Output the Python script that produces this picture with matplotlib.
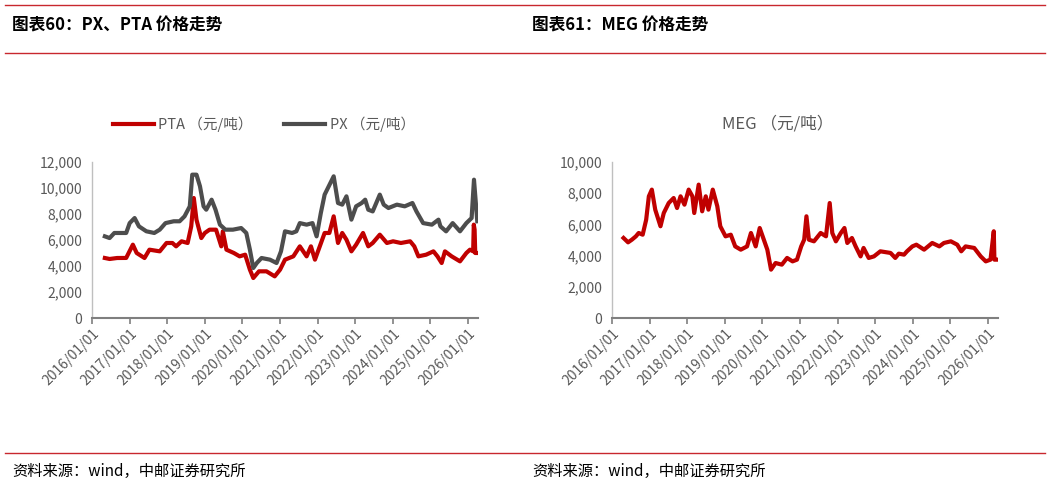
import pandas as pd
import numpy as np
import matplotlib
matplotlib.use('Agg')
from matplotlib import pyplot as plt
import matplotlib.dates as mdates
from matplotlib.ticker import FuncFormatter

plt.rcParams['font.family'] = ['Noto Sans CJK SC', 'DejaVu Sans']

# PTA price (yuan/ton)
pta_dates = ['2016-05-05', '2016-06-20', '2016-09-01', '2016-11-28', '2017-02-01', '2017-03-10',
             '2017-05-25', '2017-07-12', '2017-10-20', '2017-12-25', '2018-02-20', '2018-03-28',
             '2018-05-20', '2018-07-18', '2018-08-22', '2018-09-16', '2018-10-12', '2018-11-28',
             '2019-01-01', '2019-02-16', '2019-04-20', '2019-06-10', '2019-06-25', '2019-07-30',
             '2019-10-10', '2019-12-05', '2020-01-28', '2020-03-14', '2020-04-16', '2020-06-10',
             '2020-08-22', '2020-11-10', '2021-01-01', '2021-02-18', '2021-05-10', '2021-07-12',
             '2021-09-16', '2021-10-28', '2021-12-06', '2022-01-22', '2022-03-10', '2022-04-25',
             '2022-06-06', '2022-07-18', '2022-08-28', '2022-10-08', '2022-11-25', '2023-01-10',
             '2023-03-18', '2023-05-08', '2023-06-20', '2023-08-28', '2023-11-05', '2024-01-04',
             '2024-03-20', '2024-06-18', '2024-07-28', '2024-09-06', '2024-11-20', '2025-01-30',
             '2025-03-10', '2025-04-20', '2025-05-22', '2025-07-26', '2025-10-15', '2025-12-16',
             '2026-01-20', '2026-02-20', '2026-02-26', '2026-03-06', '2026-03-12', '2026-04-01']
pta_values = [4615, 4540, 4615, 4620, 5640, 5000,
              4615, 5256, 5128, 5770, 5770, 5513,
              5900, 5770, 7050, 9230, 7560, 6150,
              6540, 6795, 6795, 5513, 6667, 5256,
              5000, 4743, 4870, 3718, 3077, 3590,
              3590, 3205, 3718, 4487, 4743, 5513,
              4743, 5513, 4487, 5513, 6540, 6540,
              7820, 5770, 6540, 6025, 5128, 5640,
              6540, 5513, 5770, 6410, 5770, 5900,
              5770, 5900, 5513, 4743, 4870, 5128,
              4743, 4230, 5128, 4743, 4358, 5000,
              5256, 5128, 7180, 6795, 5000, 5000]

# PX price (yuan/ton)
px_dates = ['2016-05-05', '2016-06-20', '2016-08-05', '2016-11-28', '2017-01-01', '2017-02-18',
            '2017-04-01', '2017-06-12', '2017-08-28', '2017-10-20', '2017-12-15', '2018-03-05',
            '2018-05-01', '2018-06-18', '2018-08-08', '2018-09-01', '2018-10-12', '2018-11-15',
            '2018-12-20', '2019-01-15', '2019-03-08', '2019-04-15', '2019-05-28', '2019-07-20',
            '2019-10-01', '2019-12-20', '2020-02-08', '2020-03-14', '2020-04-16', '2020-05-20',
            '2020-07-05', '2020-09-25', '2020-11-28', '2021-01-10', '2021-02-18', '2021-04-28',
            '2021-06-08', '2021-07-12', '2021-09-16', '2021-11-12', '2021-12-22', '2022-02-01',
            '2022-03-10', '2022-06-06', '2022-07-18', '2022-08-28', '2022-10-08', '2022-11-25',
            '2023-01-10', '2023-03-05', '2023-04-08', '2023-05-08', '2023-06-20', '2023-08-28',
            '2023-10-05', '2023-11-20', '2024-02-10', '2024-04-26', '2024-07-10', '2024-08-18',
            '2024-10-22', '2025-01-15', '2025-03-20', '2025-04-08', '2025-06-02', '2025-08-05',
            '2025-10-15', '2025-12-16', '2026-02-05', '2026-02-28', '2026-04-01']
px_values = [6280, 6150, 6540, 6540, 7300, 7690,
             7050, 6670, 6540, 6795, 7300, 7440,
             7440, 7820, 8590, 11025, 11025, 10130,
             8590, 8330, 9100, 8330, 7180, 6795,
             6795, 6920, 6540, 5256, 3846, 4230,
             4615, 4487, 4230, 5128, 6667, 6540,
             6667, 7300, 7180, 7300, 6280, 8075,
             9490, 10900, 8845, 8720, 9360, 7565,
             8590, 8845, 9100, 8330, 8200, 9490,
             8720, 8460, 8720, 8590, 8845, 8200,
             7300, 7180, 7565, 7050, 6667, 7300,
             6667, 7300, 7690, 10640, 7440]

# MEG price (yuan/ton)
meg_dates = ['2016-04-22', '2016-06-05', '2016-07-12', '2016-08-20', '2016-09-16', '2016-10-25',
             '2016-11-28', '2016-12-24', '2017-01-22', '2017-02-24', '2017-04-16', '2017-05-18',
             '2017-07-05', '2017-08-22', '2017-09-24', '2017-10-28', '2017-12-05', '2018-01-15',
             '2018-02-20', '2018-03-10', '2018-04-22', '2018-05-26', '2018-06-30', '2018-07-26',
             '2018-09-06', '2018-10-20', '2018-11-18', '2019-01-08', '2019-02-28', '2019-04-12',
             '2019-06-05', '2019-08-05', '2019-09-12', '2019-10-28', '2019-12-06', '2020-01-15',
             '2020-02-18', '2020-03-25', '2020-05-08', '2020-07-08', '2020-08-28', '2020-10-20',
             '2020-12-02', '2021-01-12', '2021-02-10', '2021-03-04', '2021-03-28', '2021-05-16',
             '2021-07-20', '2021-09-10', '2021-10-16', '2021-11-10', '2021-12-15', '2022-02-01',
             '2022-03-08', '2022-04-05', '2022-05-20', '2022-06-25', '2022-08-12', '2022-09-10',
             '2022-10-30', '2022-12-20', '2023-02-20', '2023-05-30', '2023-07-15', '2023-08-18',
             '2023-10-08', '2023-11-06', '2023-12-28', '2024-02-05', '2024-04-20', '2024-07-08',
             '2024-09-15', '2024-10-30', '2025-01-05', '2025-03-08', '2025-04-16', '2025-05-28',
             '2025-08-20', '2025-10-22', '2025-12-10', '2026-01-25', '2026-02-26', '2026-03-04',
             '2026-04-01']
meg_values = [5130, 4850, 5020, 5235, 5450, 5340,
              6300, 7800, 8230, 6945, 5880, 6730,
              7370, 7690, 7050, 7800, 7265, 8230,
              7800, 6730, 8550, 6840, 7800, 6945,
              8230, 7160, 5880, 5235, 5340, 4590,
              4380, 4590, 5450, 4590, 5770, 5020,
              4380, 3100, 3525, 3420, 3850, 3630,
              3740, 4590, 5020, 6520, 5020, 4915,
              5450, 5235, 7370, 5450, 4915, 5450,
              5770, 4810, 5130, 4590, 3950, 4490,
              3850, 3950, 4275, 4170, 3850, 4125,
              4060, 4275, 4590, 4700, 4380, 4810,
              4590, 4810, 4915, 4700, 4275, 4590,
              4490, 3950, 3630, 3740, 5560, 3740,
              3740]

PTA_LABEL = 'PTA （元/吨）'
PX_LABEL = 'PX （元/吨）'
MEG_LABEL = 'MEG （元/吨）'
titles = ['图表60：PX、PTA 价格走势', '图表61：MEG 价格走势']
source = '资料来源：wind，中邮证券研究所'

RED = '#c00000'
GREY = '#4d4d4d'
TXT = '#595959'
LINE_RED = '#c8282e'

fig = plt.figure(figsize=(10.5, 4.88), dpi=100)

# header / footer rules
for y in [1 - 5 / 488, 1 - 53 / 488, 1 - 453 / 488]:
    fig.add_artist(plt.Line2D([5 / 1050, 1045 / 1050], [y, y], color=LINE_RED, lw=1.0))

for x0, t in zip([12, 532], titles):
    fig.text(x0 / 1050, 1 - 26 / 488, t, fontsize=12, fontweight='bold', va='center', color='black')
    fig.text(x0 / 1050, 1 - 471 / 488, source, fontsize=11, va='center', color='black')

thousands = FuncFormatter(lambda v, p: '{:,.0f}'.format(v))


def style_axis(ax, ymax, ystep):
    ax.set_ylim(0, ymax)
    ax.set_yticks(np.arange(0, ymax + 1, ystep))
    ax.yaxis.set_major_formatter(thousands)
    ax.set_xlim(pd.Timestamp('2016-01-01'), pd.Timestamp('2026-04-08'))
    ax.xaxis.set_major_locator(mdates.YearLocator())
    ax.xaxis.set_major_formatter(mdates.DateFormatter('%Y/%m/%d'))
    for s in ['top', 'right']:
        ax.spines[s].set_visible(False)
    ax.spines['left'].set_color('#bfbfbf')
    ax.spines['left'].set_linewidth(1.0)
    ax.spines['bottom'].set_color('#7f7f7f')
    ax.spines['bottom'].set_linewidth(1.5)
    ax.tick_params(axis='y', length=0, labelsize=10, labelcolor=TXT, pad=7)
    ax.tick_params(axis='x', length=4, width=1.2, color='#7f7f7f', labelsize=10,
                   labelcolor=TXT, pad=2)
    for lab in ax.get_xticklabels():
        lab.set_rotation(45)
        lab.set_ha('right')
        lab.set_rotation_mode('anchor')


ax1 = fig.add_axes([92 / 1050, 1 - 318 / 488, 386 / 1050, 156 / 488])
ax1.plot(pd.to_datetime(pta_dates), pta_values, color=RED, lw=3, label=PTA_LABEL)
ax1.plot(pd.to_datetime(px_dates), px_values, color=GREY, lw=3, label=PX_LABEL)
style_axis(ax1, 12000, 2000)
ax1.legend(loc='center', bbox_to_anchor=(0.445, 1 + (162 - 124) / 156), ncol=2, frameon=False,
           fontsize=10.5, labelcolor=TXT, handlelength=2.8, columnspacing=2.2, handletextpad=0.3)

ax2 = fig.add_axes([612 / 1050, 1 - 318 / 488, 386 / 1050, 156 / 488])
ax2.plot(pd.to_datetime(meg_dates), meg_values, color=RED, lw=3)
style_axis(ax2, 10000, 2000)
ax2.text(0.43, 1 + (162 - 124) / 156, MEG_LABEL, transform=ax2.transAxes, ha='center',
         va='center', fontsize=12, color=TXT)

fig.savefig('out.png', dpi=100)
